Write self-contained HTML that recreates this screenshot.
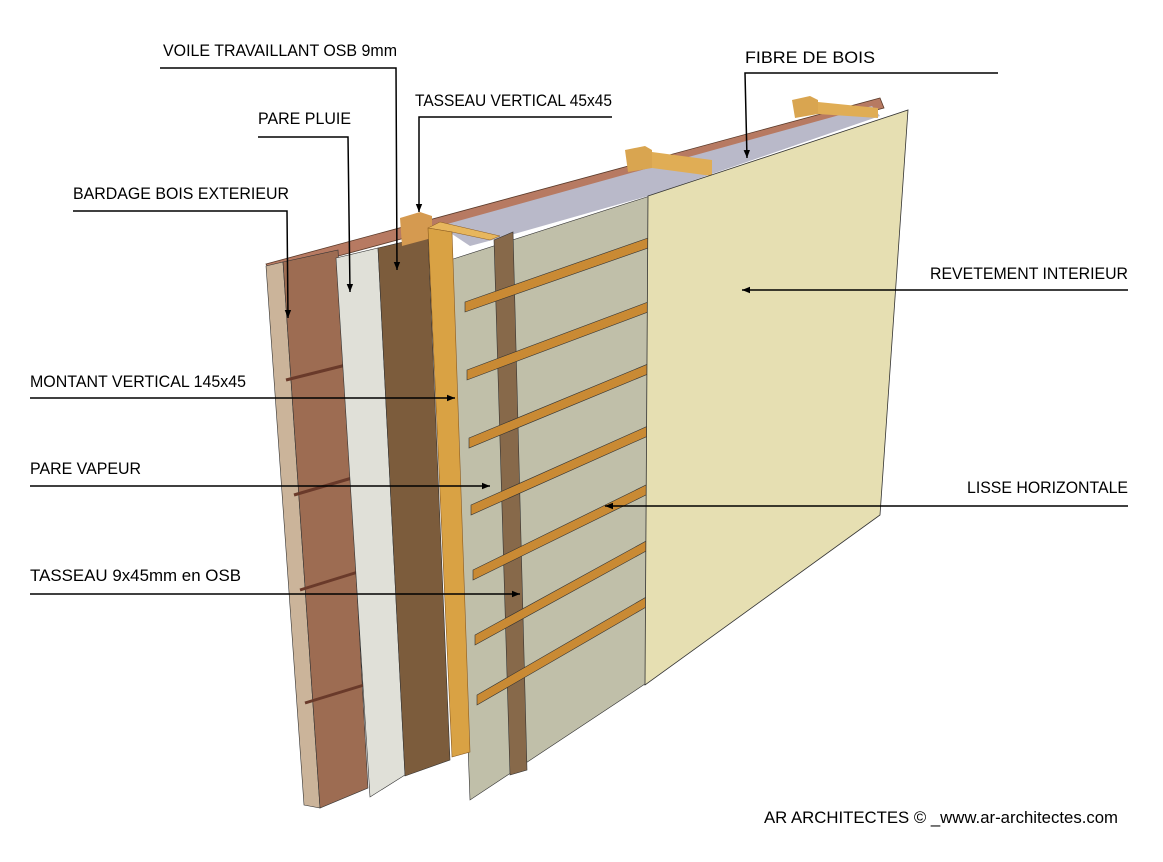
<!DOCTYPE html>
<html><head><meta charset="utf-8"><style>html,body{margin:0;padding:0;background:#fff}svg{display:block}</style></head>
<body>
<svg width="1163" height="862" viewBox="0 0 1163 862" xmlns="http://www.w3.org/2000/svg" font-family="Liberation Sans, Arial, sans-serif" font-size="16.5">
<defs>
<marker id="ar" viewBox="0 0 10 10" refX="10" refY="5" markerWidth="8" markerHeight="8" orient="auto-start-reverse" markerUnits="userSpaceOnUse"><path d="M0,1 L10,5 L0,9 z" fill="#000"/></marker>
</defs>
<!-- top copper strip -->
<polygon points="266,264 880,98 884,108 272,274" fill="#b77a62" stroke="#5a3a2a" stroke-width="0.8"/>
<!-- insulation top -->
<polygon points="440,226 872,106 880,116 648,196 500,238 470,246" fill="#b9b9c9"/>
<!-- bardage side -->
<polygon points="266,266 283,262 320,808 304,805" fill="#cbb49a" stroke="#333" stroke-width="0.6"/>
<!-- bardage front -->
<polygon points="283,262 338,250 368,788 320,808" fill="#9d6c52" stroke="#333" stroke-width="0.6"/>
<line x1="286" y1="380" x2="346" y2="365" stroke="#6a3a2a" stroke-width="3"/>
<line x1="294" y1="495" x2="352" y2="478" stroke="#6a3a2a" stroke-width="3"/>
<line x1="300" y1="590" x2="358" y2="572" stroke="#6a3a2a" stroke-width="3"/>
<line x1="305" y1="703" x2="364" y2="685" stroke="#6a3a2a" stroke-width="3"/>
<!-- pare pluie -->
<polygon points="336,258 378,248 405,775 370,797" fill="#e0e0d8" stroke="#333" stroke-width="0.6"/>
<!-- OSB -->
<polygon points="378,248 428,236 450,760 405,776" fill="#7c5c3c" stroke="#333" stroke-width="0.6"/>
<!-- tasseau top -->
<polygon points="400,218 420,212 432,216 432,238 402,246" fill="#d59a50"/>
<!-- pare vapeur -->
<polygon points="450,260 650,196 648,682 470,800" fill="#c0bfa9" stroke="#333" stroke-width="0.6"/>
<!-- montant -->
<polygon points="428,228 440,222 500,236 490,240 452,232" fill="#e7b65d" stroke="#8a5a20" stroke-width="0.5"/>
<polygon points="428,228 452,232 470,752 452,757" fill="#d9a244" stroke="#8a5a20" stroke-width="0.6"/>
<!-- tasseau vertical brown on vapeur -->
<polygon points="494,240 513,232 527,770 510,775" fill="#87694a" stroke="#333" stroke-width="0.6"/>
<!-- lisses -->
<g fill="#c98a34" stroke="#333" stroke-width="0.6">
<polygon points="465,302 648,238 648,248 465,312"/>
<polygon points="467,370 648,302 648,312 467,380"/>
<polygon points="469,438 648,364 648,374 469,448"/>
<polygon points="471,505 648,426 648,436 471,515"/>
<polygon points="473,570 648,484 648,494 473,580"/>
<polygon points="475,635 648,540 648,550 475,645"/>
<polygon points="477,695 648,596 648,606 477,705"/>
</g>
<!-- top blocks -->
<polygon points="625,150 645,146 652,150 652,168 628,172" fill="#d9a550"/>
<polygon points="652,152 712,160 712,176 652,168" fill="#e0ad55"/>
<polygon points="792,100 810,96 818,100 818,114 795,118" fill="#d9a550"/>
<polygon points="818,102 878,108 878,118 818,114" fill="#e0ad55"/>
<!-- revetement -->
<polygon points="648,196 908,110 880,515 645,685" fill="#e6dfb2" stroke="#333" stroke-width="0.8"/>
<!-- leaders -->
<g stroke="#000" stroke-width="1.5" fill="none">
<polyline points="160,68 396,68 397,270" marker-end="url(#ar)"/>
<polyline points="258,137 348,137 350,292" marker-end="url(#ar)"/>
<polyline points="73,211 287,211 288,318" marker-end="url(#ar)"/>
<polyline points="612,117 419,117 419,212" marker-end="url(#ar)"/>
<polyline points="998,73 745,73 747,158" marker-end="url(#ar)"/>
<line x1="1128" y1="290" x2="742" y2="290" marker-end="url(#ar)"/>
<line x1="30" y1="398" x2="455" y2="398" marker-end="url(#ar)"/>
<line x1="30" y1="486" x2="490" y2="486" marker-end="url(#ar)"/>
<line x1="1128" y1="506" x2="605" y2="506" marker-end="url(#ar)"/>
<line x1="30" y1="594" x2="520" y2="594" marker-end="url(#ar)"/>
</g>
<g fill="#000">
<text x="163" y="56" textLength="234" lengthAdjust="spacingAndGlyphs">VOILE TRAVAILLANT OSB 9mm</text>
<text x="258" y="124" textLength="93" lengthAdjust="spacingAndGlyphs">PARE PLUIE</text>
<text x="73" y="199" textLength="216" lengthAdjust="spacingAndGlyphs">BARDAGE BOIS EXTERIEUR</text>
<text x="415" y="106" textLength="197" lengthAdjust="spacingAndGlyphs">TASSEAU VERTICAL 45x45</text>
<text x="745" y="63" textLength="130" lengthAdjust="spacingAndGlyphs">FIBRE DE BOIS</text>
<text x="930" y="279" textLength="198" lengthAdjust="spacingAndGlyphs">REVETEMENT INTERIEUR</text>
<text x="30" y="387" textLength="216" lengthAdjust="spacingAndGlyphs">MONTANT VERTICAL 145x45</text>
<text x="30" y="474" textLength="111" lengthAdjust="spacingAndGlyphs">PARE VAPEUR</text>
<text x="967" y="493" textLength="161" lengthAdjust="spacingAndGlyphs">LISSE HORIZONTALE</text>
<text x="30" y="581" textLength="211" lengthAdjust="spacingAndGlyphs">TASSEAU 9x45mm en OSB</text>
<text x="764" y="823" textLength="354" lengthAdjust="spacingAndGlyphs">AR ARCHITECTES © _www.ar-architectes.com</text>
</g>
</svg>
</body></html>
